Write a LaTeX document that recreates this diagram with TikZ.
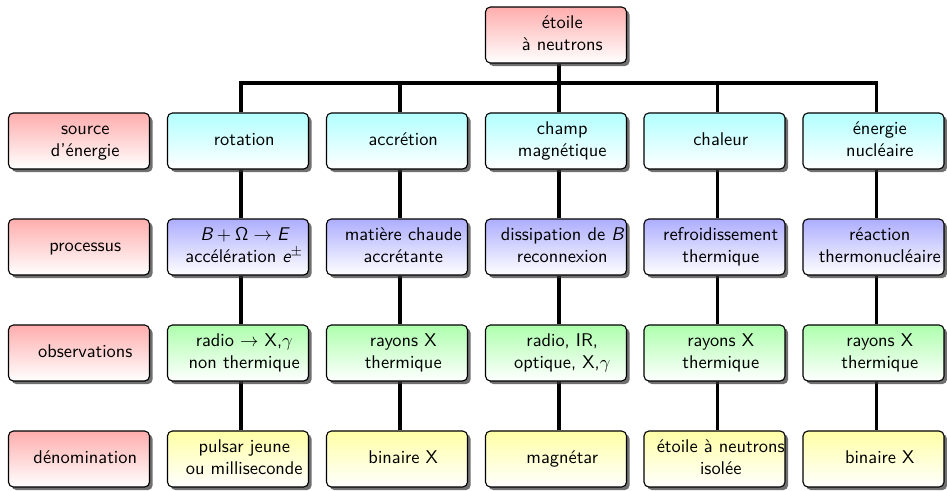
\documentclass[tikz,border=0pt]{standalone}
\usetikzlibrary{shadows}
\pgfdeclarelayer{background}
\pgfsetlayers{background,main}
\newcommand\bt[1]{\kern6.8pt\begin{tabular}{@{}c@{}}#1\end{tabular}}
\newcommand\mi[1]{\mbox{\sffamily\slshape #1}}
\begin{document}
\begin{tikzpicture}[x=0.5435pt, y=-0.5435pt, font=\sffamily,
  box/.style={draw=black, line width=0.6pt, rounded corners=2.6pt,
    minimum width=76.6pt, minimum height=30.4pt, inner sep=0pt,
    drop shadow={shadow xshift=1.7pt, shadow yshift=-1.7pt, opacity=0.7, fill=black!80}},
  redbox/.style={box, top color=red!32, bottom color=white},
  cyanbox/.style={box, top color=cyan!30, bottom color=white},
  bluebox/.style={box, top color=blue!32, bottom color=white},
  greenbox/.style={box, top color=green!32, bottom color=white},
  yellowbox/.style={box, top color=yellow!35, bottom color=white},
  conn/.style={line width=1.9pt, black, line join=miter}]
\useasboundingbox (0,0) rectangle (947,490);
\def\dx{1.7pt}
% top
\node[redbox] (top) at (556,35) {\bt{étoile\\à neutrons}};
% labels
\node[redbox] (l1) at (79,141) {\bt{source\\d'énergie}};
\node[redbox] (l2) at (79,247) {\bt{processus}};
\node[redbox] (l3) at (79,353) {\bt{observations}};
\node[redbox] (l4) at (79,459) {\bt{dénomination}};
% row 1
\node[cyanbox] (a1) at (238,141) {\bt{rotation}};
\node[cyanbox] (b1) at (397,141) {\bt{accrétion}};
\node[cyanbox] (c1) at (556,141) {\bt{champ\\magnétique}};
\node[cyanbox] (d1) at (714.5,141) {\bt{chaleur}};
\node[cyanbox] (e1) at (873.5,141) {\bt{énergie\\nucléaire}};
% row 2
\node[bluebox] (a2) at (238,247) {\bt{$\mi{B}+\mathsf{\Omega}\to\mi{E}$\\accélération $\mi{e}^{\pm}$}};
\node[bluebox] (b2) at (397,247) {\bt{matière chaude\\accrétante}};
\node[bluebox] (c2) at (556,247) {\bt{dissipation de $\mi{B}$\\reconnexion}};
\node[bluebox] (d2) at (714.5,247) {\bt{refroidissement\\thermique}};
\node[bluebox] (e2) at (873.5,247) {\bt{réaction\\thermonucléaire}};
% row 3
\node[greenbox] (a3) at (238,353) {\bt{radio $\to$ X,$\gamma$\\non thermique}};
\node[greenbox] (b3) at (397,353) {\bt{rayons X\\thermique}};
\node[greenbox] (c3) at (556,353) {\bt{radio, IR,\\optique, X,$\gamma$}};
\node[greenbox] (d3) at (714.5,353) {\bt{rayons X\\thermique}};
\node[greenbox] (e3) at (873.5,353) {\bt{rayons X\\thermique}};
% row 4
\node[yellowbox] (a4) at (238,459) {\bt{pulsar jeune\\ou milliseconde}};
\node[yellowbox] (b4) at (397,459) {\bt{binaire X}};
\node[yellowbox] (c4) at (556,459) {\bt{magnétar}};
\node[yellowbox] (d4) at (714.5,459) {\bt{étoile à neutrons\\isolée}};
\node[yellowbox] (e4) at (873.5,459) {\bt{binaire X}};
\coordinate (bar) at (0,83);
\begin{pgfonlayer}{background}
\draw[conn] ([xshift=\dx]top.south) -- ([xshift=\dx]c1.north);
\draw[conn] ([xshift=\dx]a1.north) -- ([xshift=\dx]a1.north |- bar) -- ([xshift=\dx]e1.north |- bar) -- ([xshift=\dx]e1.north);
\draw[conn] ([xshift=\dx]b1.north |- bar) -- ([xshift=\dx]b1.north);
\draw[conn] ([xshift=\dx]d1.north |- bar) -- ([xshift=\dx]d1.north);
\foreach \c in {a,b,c,d,e}{
  \draw[conn] ([xshift=\dx]\c1.south) -- ([xshift=\dx]\c2.north);
  \draw[conn] ([xshift=\dx]\c2.south) -- ([xshift=\dx]\c3.north);
  \draw[conn] ([xshift=\dx]\c3.south) -- ([xshift=\dx]\c4.north);
}
\end{pgfonlayer}
\end{tikzpicture}
\end{document}
